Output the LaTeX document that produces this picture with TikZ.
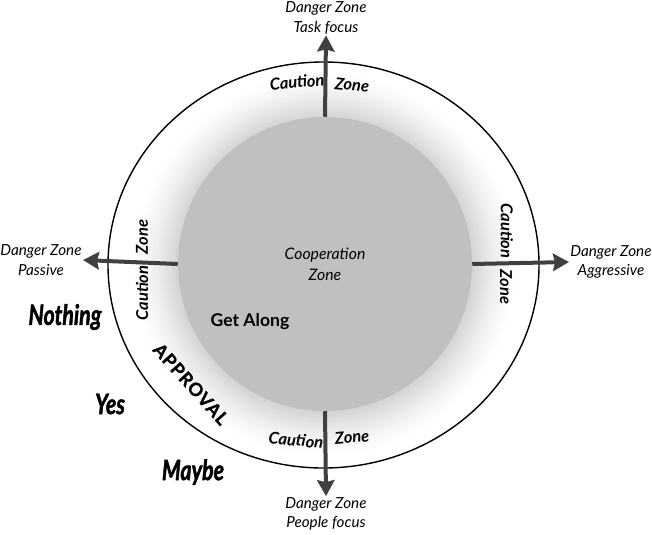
\documentclass[tikz,border=0pt]{standalone}
\usepackage{fontspec}
\setmainfont{Lato}
\newfontfamily\heavyfont[FakeStretch=0.76, FakeBold=1.5]{Lato}
\newfontfamily\spacedfont[LetterSpace=6, FakeBold=1]{Lato}
\usetikzlibrary{arrows.meta,positioning}
\definecolor{zonegray}{RGB}{192,192,192}
\definecolor{arrowgray}{RGB}{64,64,64}

\begin{document}
\begin{tikzpicture}[
  x=0.03cm, y=-0.03cm,
  >={Stealth[length=0.48cm,width=0.52cm,inset=0.06cm]},
  zonearrow/.style={->, line width=0.12cm, arrowgray},
  danger/.style={font=\fontsize{13}{16.5}\selectfont\itshape, align=center, inner sep=1pt},
  caution/.style={font=\fontsize{14}{16}\selectfont\bfseries\itshape, inner sep=1pt},
  answer/.style={font=\fontsize{24}{26}\selectfont\heavyfont\bfseries\itshape, inner sep=1pt}
]
\useasboundingbox (0,0) rectangle (652,534);

%% -- caution ring -------------------------------------------------
\begin{scope}
  \clip (323.5,265) ellipse [x radius=6.465cm, y radius=6.09cm];
  \foreach \r [evaluate=\r as \rad using {(193-\r)*0.03},
               evaluate=\r as \tone using {17*(\r/46)^1.4}] in {0,...,46}
    \fill[black!\tone] (325,265) circle [radius=\rad cm];
\end{scope}
\draw[line width=1.2pt] (323.5,265) ellipse [x radius=6.465cm, y radius=6.09cm];

%% -- cooperation zone ---------------------------------------------
\node[circle, minimum size=8.82cm, inner sep=0, fill=zonegray,
      font=\fontsize{13.5}{18}\selectfont\itshape, align=center]
  (coop) at (325,264) {Cooperation\\Zone};

%% -- danger zones -------------------------------------------------
\node[danger] (task)       at (326,18)  {Danger Zone\\Task focus};
\node[danger] (people)     at (326,514) {Danger Zone\\People focus};
\node[danger] (passive)    at (41,260)  {Danger Zone\\Passive};
\node[danger] (aggressive) at (611,262) {Danger Zone\\Aggressive};

\draw[zonearrow] (coop.north) -- (task.south);
\draw[zonearrow] (coop.south) -- (people.north);
\draw[zonearrow] (coop.west)  -- (passive.east);
\draw[zonearrow] (coop.east)  -- (aggressive.west);

%% -- caution labels -----------------------------------------------
\node[caution, rotate=5]   (cautionN) at (297,82)  {Caution};
\node[caution, rotate=-6]  (zoneN)    at (352,85)  {Zone};
\node[caution, rotate=-6]  (cautionS) at (296,440) {Caution};
\node[caution, rotate=5]   (zoneS)    at (352,437) {Zone};
\node[caution, rotate=90]  (zoneW)    at (142,237) {Zone};
\node[caution, rotate=90]  (cautionW) at (142,293) {Caution};
\node[caution, rotate=-90] (cautionE) at (507,231) {Caution};
\node[caution, rotate=-90] (zoneE)    at (506,287) {Zone};

%% -- responses ----------------------------------------------------
\node[font=\fontsize{15}{18}\selectfont\bfseries] (along) at (250,322) {Get Along};
\node[font=\fontsize{15.5}{18}\selectfont\spacedfont\bfseries, rotate=-48]
  (approval) at (191,384) {APPROVAL};
\node[answer] (nothing) at (65,317)  {Nothing};
\node[answer] (yes)     at (110,404) {Yes};
\node[answer] (maybe)   at (193,472) {Maybe};

\end{tikzpicture}
\end{document}
